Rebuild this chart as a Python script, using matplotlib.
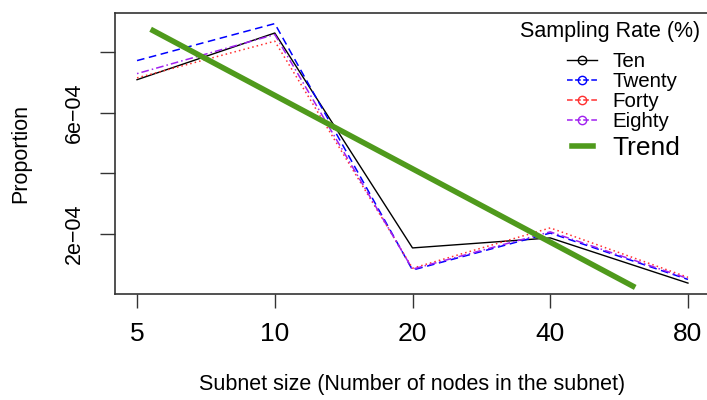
import numpy as np
import matplotlib
matplotlib.use('Agg')
from matplotlib import pyplot as plt
from matplotlib.lines import Line2D

plt.rcParams['font.family'] = ['Liberation Sans', 'DejaVu Sans']

sizes = [5, 10, 20, 40, 80]
ten = [7.09e-4, 8.63e-4, 1.54e-4, 1.87e-4, 0.38e-4]
twenty = [7.72e-4, 8.94e-4, 0.81e-4, 2.03e-4, 0.50e-4]
forty = [7.15e-4, 8.36e-4, 0.87e-4, 2.20e-4, 0.57e-4]
eighty = [7.29e-4, 8.58e-4, 0.84e-4, 2.07e-4, 0.53e-4]
trend_x = [5.42, 60.6]
trend_y = [8.71e-4, 0.28e-4]

yticks = [2e-4, 4e-4, 6e-4, 8e-4]
ytick_labels = ['2e\u221204', '', '6e\u221204', '']
legend_labels = ['Ten', 'Twenty', 'Forty', 'Eighty']

green = '#4f9a1c'

fig = plt.figure(figsize=(7.07, 4.0), dpi=100)
ax = fig.add_axes([115/707, 1-294/400, 595/707, 281/400])

l1, = ax.plot(sizes, ten, color='black', lw=1.0, ls='-')
l2, = ax.plot(sizes, twenty, color='blue', lw=1.1, ls=(0, (5, 3)))
l3, = ax.plot(sizes, forty, color='#ff3030', lw=1.1, ls=(0, (1, 2)))
l4, = ax.plot(sizes, eighty, color='#a020f0', lw=1.1, ls=(0, (1, 2, 5, 2)))
l5, = ax.plot(trend_x, trend_y, color=green, lw=4)

ax.set_xscale('log', base=2)
ax.set_xlim(5 / 2**0.16, 80 * 2**0.16)
ax.set_xticks(sizes)
ax.set_xticklabels([str(s) for s in sizes])
ax.minorticks_off()
ax.set_ylim(0.02e-4, 9.29e-4)
ax.set_yticks(yticks)
ax.set_yticklabels(ytick_labels, rotation=90, va='center')

ax.tick_params(axis='x', length=10, width=1, labelsize=19, pad=10, color='#333333')
ax.tick_params(axis='y', length=10.5, width=1, labelsize=15.5, pad=11, color='#333333')
for s in ax.spines.values():
    s.set_color('#333333')
    s.set_linewidth(1.2)

ax.set_ylabel('Proportion', fontsize=15.5, labelpad=24)
ax.set_xlabel('Subnet size (Number of nodes in the subnet)', fontsize=15.5, labelpad=20)

handles = []
for l in [l1, l2, l3, l4]:
    handles.append(Line2D([], [], color=l.get_color(), lw=l.get_linewidth(), ls=l.get_linestyle(),
                          marker='o', mfc='none', markersize=6))

leg = ax.legend(handles, legend_labels, loc='upper left', bbox_to_anchor=(567/707, 1-52/400),
                bbox_transform=fig.transFigure, frameon=False, fontsize=14.8,
                labelspacing=0.05, handlelength=1.46, handletextpad=0.73, borderpad=0, borderaxespad=0)
ax.add_artist(leg)
ax.legend([Line2D([], [], color=green, lw=4)], ['Trend'], loc='center left',
          bbox_to_anchor=(572/707, 1-148/400), bbox_transform=fig.transFigure, frameon=False,
          fontsize=19, handlelength=0.8, handletextpad=0.72, borderpad=0, borderaxespad=0)
fig.text(610/707, 1-32/400, 'Sampling Rate (%)', fontsize=15.5, ha='center', va='center')

fig.savefig('out.png', dpi=100)
